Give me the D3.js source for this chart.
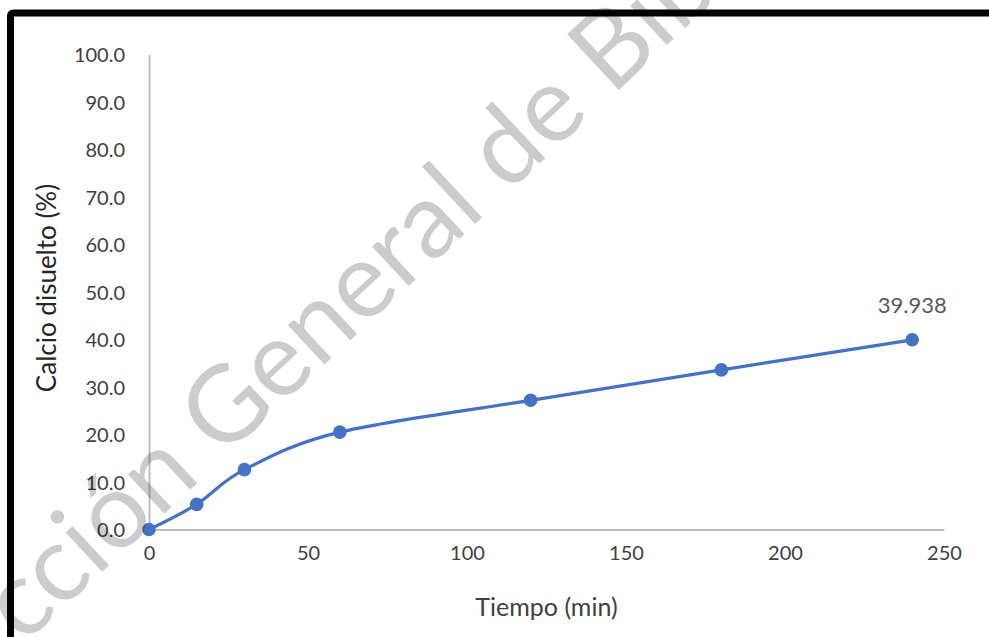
<!DOCTYPE html>
<html>
<head>
<meta charset="utf-8">
<script src="https://cdn.jsdelivr.net/npm/d3@7"></script>
<style>
  html, body { margin: 0; padding: 0; background: #fff; }
  svg { display: block; }
  text { font-family: Lato, "Open Sans", sans-serif; }
</style>
</head>
<body>
<svg id="chart" width="989" height="637"></svg>
<script>
// Dissolved calcium over time
const tiempo = [0, 15, 30, 60, 120, 180, 240];
const calcio = [0, 5.3, 12.6, 20.5, 27.2, 33.6, 39.938];
const xTicks = [0, 50, 100, 150, 200, 250];
const yTicks = [0, 10, 20, 30, 40, 50, 60, 70, 80, 90, 100];
const xTitle = "Tiempo (min)";
const yTitle = "Calcio disuelto (%)";
const labelledIndex = 6;
const watermarkHead = "Dirección\u00a0";
const watermarkTail = "General de Bibliotecas UAQ";

const W = 989, H = 637;
const plot = { left: 149, right: 944, top: 54.5, bottom: 529.5 };
const svg = d3.select("#chart");

const x = d3.scaleLinear().domain([0, 250]).range([plot.left, plot.right]);
const y = d3.scaleLinear().domain([0, 100]).range([plot.bottom, plot.top]);

const axisColor = "#bfbfbf";
const textColor = "#404040";

// y axis
const yAxis = svg.append("g")
  .attr("transform", `translate(${plot.left},0)`)
  .call(d3.axisLeft(y).tickValues(yTicks).tickSize(0).tickPadding(24)
    .tickFormat(d3.format(".1f")));
yAxis.select(".domain").attr("stroke", axisColor).attr("stroke-width", 2);
yAxis.selectAll("text")
  .attr("fill", textColor).attr("font-size", 20).attr("dy", "0.35em");

// x axis
const xAxis = svg.append("g")
  .attr("transform", `translate(0,${plot.bottom})`)
  .call(d3.axisBottom(x).tickValues(xTicks).tickSize(0).tickPadding(16)
    .tickFormat(d3.format("d")));
xAxis.select(".domain").attr("stroke", axisColor).attr("stroke-width", 2);
xAxis.selectAll("text")
  .attr("fill", textColor).attr("font-size", 20);

// axis titles
svg.append("text")
  .attr("x", (plot.left + plot.right) / 2)
  .attr("y", 616)
  .attr("text-anchor", "middle")
  .attr("fill", textColor)
  .attr("font-size", 25)
  .text(xTitle);

svg.append("text")
  .attr("transform", `translate(56,${(plot.top + plot.bottom) / 2 - 4}) rotate(-90)`)
  .attr("text-anchor", "middle")
  .attr("fill", "#262626")
  .attr("font-size", 26)
  .text(yTitle);

// smoothed series line
const points = tiempo.map((t, i) => [t, calcio[i]]);
const line = d3.line()
  .x(d => x(d[0]))
  .y(d => y(d[1]))
  .curve(d3.curveCatmullRom.alpha(0));

const blue = "#4472c4";
svg.append("path")
  .datum(points)
  .attr("d", line)
  .attr("fill", "none")
  .attr("stroke", blue)
  .attr("stroke-width", 3.2);

svg.append("g")
  .selectAll("circle")
  .data(points)
  .join("circle")
  .attr("cx", d => x(d[0]))
  .attr("cy", d => y(d[1]))
  .attr("r", 6.8)
  .attr("fill", blue);

// value label on the last point
const last = points[labelledIndex];
svg.append("text")
  .attr("x", x(last[0]))
  .attr("y", y(last[1]) - 27)
  .attr("text-anchor", "middle")
  .attr("fill", "#595959")
  .attr("font-size", 22)
  .text(last[1].toFixed(3));

// frame: black border with a soft shadow inside the top edge
const defs = svg.append("defs");
defs.append("filter").attr("id", "soft")
  .append("feGaussianBlur").attr("stdDeviation", 1.6);
svg.append("line")
  .attr("x1", 12).attr("x2", W + 10).attr("y1", 18).attr("y2", 18)
  .attr("stroke", "#9a9a9a").attr("stroke-width", 3)
  .attr("filter", "url(#soft)");
svg.append("path")
  .attr("d", `M10.5,${H + 10} L10.5,16 Q10.5,13 14,13 L${W + 10},13`)
  .attr("fill", "none")
  .attr("stroke", "#000")
  .attr("stroke-width", 7);

// diagonal watermark
const wm = svg.append("g")
  .attr("transform", "translate(222,460) rotate(-43)")
  .attr("font-family", "Liberation Sans, Arial, sans-serif")
  .attr("font-size", 106)
  .attr("fill", "#000")
  .attr("fill-opacity", 0.2);
wm.append("text").attr("text-anchor", "end").text(watermarkHead);
wm.append("text").attr("text-anchor", "start").text(watermarkTail);
</script>
</body>
</html>
